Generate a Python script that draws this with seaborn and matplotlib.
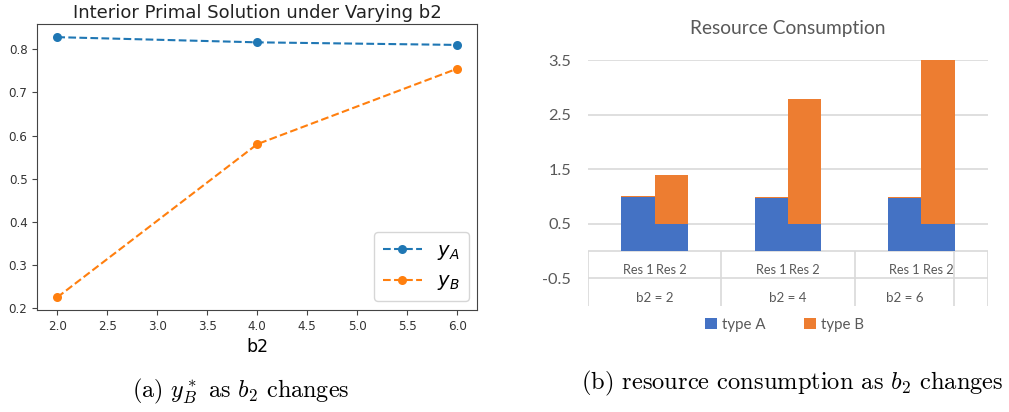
import matplotlib
matplotlib.use("Agg")
import matplotlib.pyplot as plt
from matplotlib.patches import Patch
import numpy as np
import pandas as pd
import seaborn as sns

# ---------------- data ----------------
b2_values = [2.0, 4.0, 6.0]
y_A = [0.828, 0.816, 0.810]
y_B = [0.225, 0.580, 0.755]
line_labels = ["$y_A$", "$y_B$"]

groups = ["b2 = 2", "b2 = 4", "b2 = 6"]
resources = ["Res 1", "Res 2"]
res1_typeA = [0.98, 0.97, 0.97]
res1_typeB = [0.03, 0.02, 0.02]
res2_typeA = [0.49, 0.49, 0.49]
res2_typeB = [0.90, 2.30, 3.01]
bar_ticks = [3.5, 2.5, 1.5, 0.5, -0.5]
bar_ticklabels = ["3.5", "2.5", "1.5", "0.5", "-0.5"]
type_labels = ["type A", "type B"]

# ---------------- figure ----------------
W, H = 1009, 412
fig = plt.figure(figsize=(W / 100, H / 100), dpi=100)

def px_axes(x0, y0, x1, y1):
    return fig.add_axes([x0 / W, 1 - y1 / H, (x1 - x0) / W, (y1 - y0) / H])

# ---- left panel: line plot ----
ax1 = px_axes(37.3, 24, 477.3, 310)
df_line = pd.DataFrame({
    "b2": b2_values * 2,
    "value": y_A + y_B,
    "var": [line_labels[0]] * 3 + [line_labels[1]] * 3,
})
sns.lineplot(data=df_line, x="b2", y="value", hue="var",
             palette=["#1f77b4", "#ff7f0e"], marker="o", markersize=6.5,
             markeredgewidth=0, linestyle="--", linewidth=1.5,
             legend=False, ax=ax1)
ax1.set_xlim(1.8, 6.2)
ax1.set_ylim(0.1955, 0.8585)
ax1.set_xticks(np.arange(2.0, 6.01, 0.5))
ax1.set_xticklabels([f"{v:.1f}" for v in np.arange(2.0, 6.01, 0.5)])
ax1.set_yticks([0.2, 0.3, 0.4, 0.5, 0.6, 0.7, 0.8])
ax1.set_yticklabels(["0.2", "0.3", "0.4", "0.5", "0.6", "0.7", "0.8"])
ax1.tick_params(labelsize=8.6, colors="#444444", labelcolor="#333333")
for s in ax1.spines.values():
    s.set_color("#444444")
ax1.set_xlabel("b2", fontsize=12.5, labelpad=4)
ax1.set_ylabel("")
ax1.set_title("Interior Primal Solution under Varying b2", fontsize=13,
              pad=4, color="#222222")
ax1.legend(ax1.lines[:2], line_labels, loc="lower right", fontsize=14,
           borderaxespad=0.45, labelspacing=0.5, borderpad=0.45)

fig.text(240.5 / W, 1 - 391 / H, r"(a) $y_B^*$ as $b_2$ changes",
         ha="center", va="center", fontsize=17.4, family="cmr10",
         math_fontfamily="cm")

# ---- right panel: stacked bars (Excel style) ----
ax2 = px_axes(588, 60, 988, 305.5)
gray_txt = "#595959"
grid_col = "#d9d9d9"
blue = "#4472C4"
orange = "#ED7D31"

df_bar = pd.DataFrame({
    "group": groups * 2,
    "res": [resources[0]] * 3 + [resources[1]] * 3,
    "A": res1_typeA + res2_typeA,
    "B": res1_typeB + res2_typeB,
})
df_bar["total"] = df_bar["A"] + df_bar["B"]

ax2.set_axisbelow(True)
sns.barplot(data=df_bar, x="group", y="total", hue="res", hue_order=resources,
            order=groups, palette={resources[0]: orange, resources[1]: orange},
            width=0.5, dodge=True, linewidth=0, saturation=1, legend=False,
            ax=ax2, zorder=2)
sns.barplot(data=df_bar, x="group", y="A", hue="res", hue_order=resources,
            order=groups, palette={resources[0]: blue, resources[1]: blue},
            width=0.5, dodge=True, linewidth=0, saturation=1, legend=False,
            ax=ax2, zorder=3)

ax2.set_xlim(-0.5, 2.5)
ax2.set_ylim(-1.0, 3.5)
ax2.set_yticks(bar_ticks)
ax2.set_yticklabels(bar_ticklabels)
ax2.set_xticks([])
ax2.set_xlabel("")
ax2.set_ylabel("")
ax2.tick_params(axis="y", length=0, pad=12, labelsize=11.8, labelcolor=gray_txt)
for lab in ax2.get_yticklabels():
    lab.set_fontfamily("Lato")
for s in ax2.spines.values():
    s.set_visible(False)
for yv in [0.5, 1.5, 2.5, 3.5]:
    ax2.axhline(yv, color=grid_col, lw=1.2, zorder=0)
# category table lines
ax2.axhline(0, color=grid_col, lw=1.2, zorder=1)
ax2.axhline(-0.5, color=grid_col, lw=1.2, zorder=1)
ax2.vlines([-0.5, 0.5, 1.5, 2.247, 2.497], -1.0, 0, colors=grid_col, lw=1.2,
           zorder=1)
# table text
for gi, g in enumerate(groups):
    for ri, r in enumerate(resources):
        ax2.text(gi - 0.125 + 0.25 * ri, -0.345, r, ha="center", va="center",
                 fontsize=9.2, color=gray_txt, family="Lato")
    gx = gi if gi < 2 else (1.5 + 2.247) / 2
    ax2.text(gx, -0.87, g, ha="center", va="center", fontsize=9.6,
             color=gray_txt, family="Lato")
ax2.set_title("Resource Consumption", fontsize=13.8, color=gray_txt,
              family="Lato", pad=19)

handles = [Patch(facecolor=blue, edgecolor="none"),
           Patch(facecolor=orange, edgecolor="none")]
fig.legend(handles, type_labels, loc="center", ncol=2, frameon=False,
           bbox_to_anchor=(784.5 / W, 1 - 325 / H),
           prop={"family": "Lato", "size": 10.8}, labelcolor=gray_txt,
           handlelength=0.75, handleheight=0.75, handletextpad=0.35,
           columnspacing=2.6)

fig.text(792 / W, 1 - 383 / H, r"(b) resource consumption as $b_2$ changes",
         ha="center", va="center", fontsize=17.6, family="cmr10",
         math_fontfamily="cm")

fig.savefig("out.png", dpi=100)
